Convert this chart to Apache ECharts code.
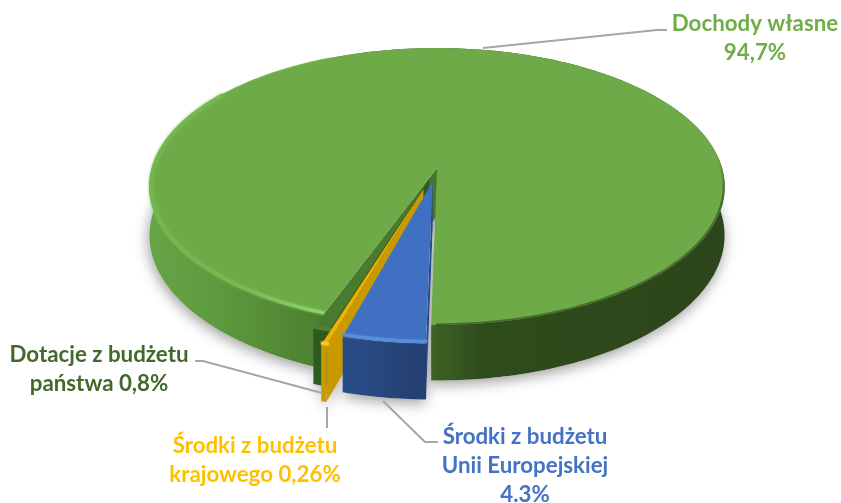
<!DOCTYPE html>
<html><head><meta charset="utf-8">
<style>html,body{margin:0;background:#fff}#c{width:841px;height:503px}</style>
<script src="https://cdn.jsdelivr.net/npm/echarts@6/dist/echarts.min.js"></script>
</head><body><div id="c"></div>
<script>
// Data, clockwise from the start of the green slice
const categories = ['Dochody własne', 'Środki z budżetu Unii Europejskiej', 'Środki z budżetu krajowego', 'Dotacje z budżetu państwa'];
const shares = [94.7, 4.3, 0.26, 0.8];
const labelLines = ['Dochody własne\n94,7%', 'Środki z budżetu\nUnii Europejskiej\n4.3%', 'Środki z budżetu\nkrajowego 0,26%', 'Dotacje z budżetu\npaństwa 0,8%'];

// Presentation
const START = 20.3;                 // degrees clockwise from 6 o'clock
const pulled = [0, 0.1, 0.16, 0.085];
const trimEnd = [0, 0.9, 0, 0];     // rounded bevel corner at the slice end
const paintRank = [0, 3, 2, 1];
const topColor = ['#6EAA48', '#4070C2', '#F2B000', '#4A7A2E'];
const wallColor = ['#46752B', '#284A82', '#C99A00', '#2F5A1E'];
const sideColor = [
  {type:'linear',x:0,y:0,x2:1,y2:0,colorStops:[{offset:0,color:'#66A547'},{offset:.1,color:'#5F9C40'},{offset:.3,color:'#4C7F2F'},{offset:.48,color:'#3E6525'},{offset:.58,color:'#2F4C1C'},{offset:1,color:'#2C451A'}]},
  {type:'linear',x:0,y:0,x2:1,y2:0,colorStops:[{offset:0,color:'#2A4D88'},{offset:1,color:'#243F70'}]},
  '#C99A00', '#2E5A1D'
];
const rimColor = ['#8BCB66', '#5C8CDE', '#FFC926', '#4F8232'];
const textColor = ['#70AD47', '#4472C4', '#FFC000', '#43682B'];
const labelPos = [[755, 38.5], [525, 466], [255, 460], [99, 369.5]];
const leaders = [
  [[483, 48], [657, 30], [667, 30]],
  [[383, 401], [425, 442], [438, 442]],
  [[327, 407], [327, 428]],
  [[195, 361], [203, 361], [322, 393]]
];
const CX = 437, CY = 168, A = 285, RY = 136, Q = 0.134, DEPTH = 48;

const rad = d => d * Math.PI / 180;
function project(u, w, h) {
  const s = 1 / (1 - Q * w);
  return [CX + A * u * s, CY + RY * w * s + h * DEPTH * s];
}
function angles(i, vals) {
  const tot = vals.reduce((a, b) => a + b, 0);
  let acc = 0;
  for (let k = 0; k < i; k++) acc += vals[k];
  return [START + acc / tot * 360, START + (acc + vals[i]) / tot * 360];
}
function renderItem(params, api) {
  const i = params.dataIndex;
  const vals = shares.map((_, k) => api.value(0, k));
  const [a0, full1] = angles(i, vals);
  const a1 = full1 - trimEnd[i];
  const mid = rad((a0 + full1) / 2);
  const ou = -pulled[i] * Math.sin(mid), ow = pulled[i] * Math.cos(mid);
  const pt = (phi, r, h) => project(ou - r * Math.sin(rad(phi)), ow + r * Math.cos(rad(phi)), h);
  const arc = (f, t, r, h) => {
    const n = Math.max(2, Math.ceil(Math.abs(t - f)));
    const out = [];
    for (let k = 0; k <= n; k++) out.push(pt(f + (t - f) * k / n, r, h));
    return out;
  };
  const apex = h => project(ou, ow, h);
  const wall = phi => [apex(0), pt(phi, 1, 0), pt(phi, 1, 1), apex(1)];
  const base = paintRank[i] * 10;
  const poly = (points, style, z) => ({type:'polygon', shape:{points}, style, z2: base + z, silent:true});
  const line = (points, style, z) => ({type:'polyline', shape:{points}, style:Object.assign({fill:null, lineCap:'round'}, style), z2: base + z, silent:true});

  const kids = [];
  // soft shadow below the slice
  kids.push({type:'polygon', shape:{points:[apex(1)].concat(arc(a0, a1, 1, 1))}, z2:-5, silent:true,
    style:{fill:'#fff', shadowBlur:14, shadowOffsetX:-1, shadowOffsetY:4, shadowColor:'rgba(0,0,0,0.38)'}});
  // the wall that faces the viewer
  kids.push(poly(wall(a0), {fill: wallColor[i]}, 1));
  // outer side
  kids.push(poly(arc(a0, a1, 1, 0).concat(arc(a1, a0, 1, 1)), {fill: sideColor[i]}, 2));
  // top face
  kids.push(poly([apex(0)].concat(arc(a0, a1, 1, 0)), {fill: topColor[i]}, 3));
  // bevel highlights
  if (i === 0) {
    kids.push(line(arc(a0 + .3, a0 + 105, 0.995, 0), {
      stroke:{type:'linear',x:0,y:0,x2:1,y2:0,colorStops:[{offset:0,color:'#72B64D'},{offset:.55,color:'#76BA51'},{offset:1,color:'#92D26C'}]},
      lineWidth:3.5, shadowBlur:3, shadowColor:'#7CBE58'}, 4));
    kids.push(line(arc(a0 + 105, a0 + 135, 0.997, 0), {stroke:'#74B84F', lineWidth:2, opacity:.6}, 4));
    kids.push(line(arc(a1 - 95, a1 - 1, 0.997, 0), {
      stroke:{type:'linear',x:1,y:0,x2:1,y2:1,colorStops:[{offset:0,color:'rgba(44,70,26,0)'},{offset:.25,color:'rgba(44,70,26,0.6)'},{offset:1,color:'rgba(44,70,26,0.6)'}]},
      lineWidth:2.5}, 4));
  } else {
    kids.push(line(arc(a0, a1, 0.99, 0), {stroke: rimColor[i], lineWidth:3, shadowBlur:2, shadowColor:rimColor[i]}, 4));
  }
  // leader line and label
  kids.push({type:'polyline', shape:{points:leaders[i]}, z2:50, silent:true,
    style:{fill:null, stroke:'#A6A6A6', lineWidth:2}});
  kids.push({type:'text', x:labelPos[i][0], y:labelPos[i][1], z2:60, silent:true,
    style:{text:labelLines[i], fill:textColor[i], font:'bold 22.3px Lato', lineHeight:29, align:'center', verticalAlign:'middle'}});
  return {type:'group', children:kids};
}

const chart = echarts.init(document.getElementById('c'), null, {renderer:'canvas'});
chart.setOption({
  animation:false,
  backgroundColor:'#fff',
  series:[{
    type:'custom',
    coordinateSystem:'none',
    renderItem,
    data: shares.map((v, i) => ({name:categories[i], value:[v]}))
  }]
});
</script></body></html>
